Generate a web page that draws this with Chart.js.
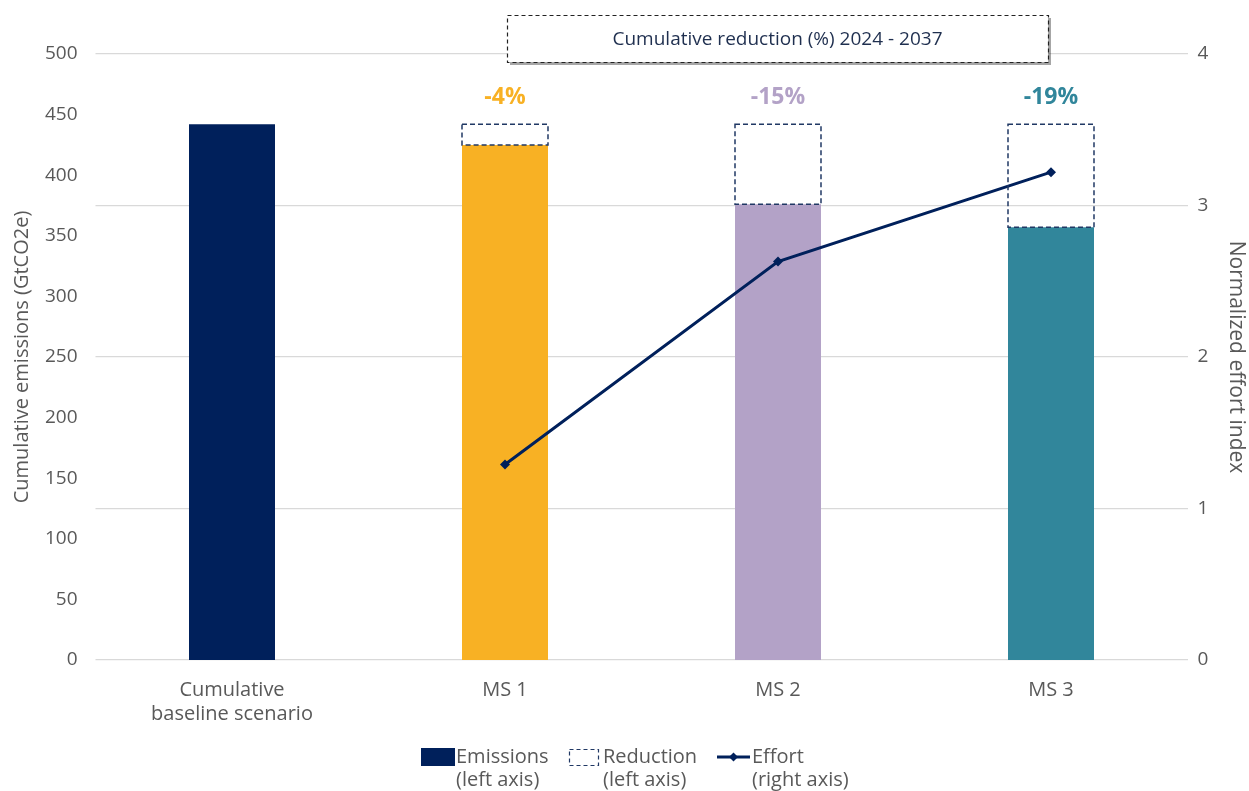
<!DOCTYPE html>
<html>
<head>
<meta charset="utf-8">
<script src="https://cdn.jsdelivr.net/npm/chart.js@4.4.0/dist/chart.umd.min.js"></script>
<style>
body{margin:0;background:#fff;}
#wrap{width:1249px;height:791px;}
</style>
</head>
<body>
<div id="wrap"><canvas id="grafico" width="1249" height="791"></canvas></div>
<script>
// DATA
var categorias = [["Cumulative","baseline scenario"],"MS 1","MS 2","MS 3"];
var emissoes = [442, 425, 376, 357];
var reducao = [0, 17, 66, 85];
var esforco = [null, 1.29, 2.63, 3.22];
var coresBarras = ["#00205b","#f8b124","#b3a2c7","#31869b"];
var ticksEsq = [0,50,100,150,200,250,300,350,400,450,500];
var ticksDir = [0,1,2,3,4];

var FONTE = "'Open Sans', sans-serif";
var CINZA = "#595959";
var AZUL = "#00205b";

/* =======================
   PLUGIN - caixas tracejadas, rótulos, legenda
======================= */
var extras = {
id:"extras",
afterDatasetsDraw:function(chart){
var ctx = chart.ctx;
var meta = chart.getDatasetMeta(1);
ctx.save();
ctx.strokeStyle = "#203864";
ctx.lineWidth = 1.5;
ctx.setLineDash([5,3]);
meta.data.forEach(function(el,i){
if(!reducao[i]) return;
var p = el.getProps(["x","y","base","width"],true);
ctx.strokeRect(p.x - p.width/2, p.y, p.width, p.base - p.y);
});
ctx.restore();

// percentuais
ctx.save();
ctx.font = "bold 23px " + FONTE;
ctx.textAlign = "center";
ctx.textBaseline = "middle";
meta.data.forEach(function(el,i){
if(!reducao[i]) return;
var base = emissoes[0];
var pct = Math.round(-reducao[i]/base*100);
ctx.fillStyle = coresBarras[i];
ctx.fillText(pct + "%", el.x, el.y - 27);
});
ctx.restore();
},
afterDraw:function(chart){
var ctx = chart.ctx;
// caixa do título
var x2 = chart.scales.x.getPixelForValue(2);
var bx = x2 - 271, by = 15, bw = 541, bh = 47;
ctx.save();
ctx.fillStyle = "rgba(0,0,0,0.35)";
ctx.fillRect(bx+3, by+3, bw, bh);
ctx.fillStyle = "#fff";
ctx.fillRect(bx, by, bw, bh);
ctx.strokeStyle = "#222";
ctx.lineWidth = 1.2;
ctx.setLineDash([4,3]);
ctx.strokeRect(bx+0.5, by+0.5, bw, bh);
ctx.setLineDash([]);
ctx.fillStyle = "#1f2f4f";
ctx.font = "19px " + FONTE;
ctx.textAlign = "center";
ctx.textBaseline = "middle";
ctx.fillText("Cumulative reduction (%) 2024 - 2037", bx + bw/2, by + bh/2 + 1);
ctx.restore();

// legenda
ctx.save();
ctx.font = "20px " + FONTE;
ctx.textBaseline = "middle";
var ly = 757, ly2 = 780;
ctx.fillStyle = AZUL;
ctx.fillRect(421, 748, 34, 18);
ctx.fillStyle = CINZA;
ctx.fillText("Emissions", 456, ly);
ctx.fillText("(left axis)", 456, ly2);

ctx.strokeStyle = "#203864";
ctx.lineWidth = 1.2;
ctx.setLineDash([4,3]);
ctx.strokeRect(569.5, 749.5, 29, 16);
ctx.setLineDash([]);
ctx.fillText("Reduction", 603, ly);
ctx.fillText("(left axis)", 603, ly2);

ctx.strokeStyle = AZUL;
ctx.lineWidth = 3;
ctx.beginPath();
ctx.moveTo(717, ly); ctx.lineTo(750, ly);
ctx.stroke();
ctx.fillStyle = AZUL;
ctx.beginPath();
ctx.moveTo(733.5, ly-4.5); ctx.lineTo(738, ly); ctx.lineTo(733.5, ly+4.5); ctx.lineTo(729, ly);
ctx.closePath(); ctx.fill();
ctx.fillStyle = CINZA;
ctx.fillText("Effort", 752, ly);
ctx.fillText("(right axis)", 752, ly2);
ctx.restore();
}
};

/* =======================
   GRÁFICO
======================= */
new Chart(document.getElementById("grafico"),{
type:"bar",
data:{
labels:categorias,
datasets:[{
label:"Emissions",
data:emissoes,
backgroundColor:coresBarras,
yAxisID:"y",
stack:"s",
order:2,
barPercentage:0.63,
categoryPercentage:0.5
},{
label:"Reduction",
data:reducao,
backgroundColor:"rgba(0,0,0,0)",
borderWidth:0,
yAxisID:"y",
stack:"s",
order:2,
barPercentage:0.63,
categoryPercentage:0.5
},{
type:"line",
label:"Effort",
data:esforco,
yAxisID:"y1",
borderColor:AZUL,
backgroundColor:AZUL,
borderWidth:3,
pointStyle:"rectRot",
pointRadius:5,
pointBorderWidth:0,
tension:0,
order:1
}]
},
options:{
responsive:false,
animation:false,
layout:{padding:{top:54,bottom:47,left:10,right:0}},
plugins:{legend:{display:false},tooltip:{enabled:false}},
scales:{
x:{
stacked:true,
grid:{display:false,drawTicks:false},
border:{display:false},
ticks:{color:CINZA,font:{family:FONTE,size:20},padding:18,maxRotation:0}
},
y:{
stacked:true,
position:"left",
min:0,max:500,
afterBuildTicks:function(s){s.ticks = ticksEsq.map(function(v){return {value:v};});},
afterFit:function(s){s.width = 85.5;},
grid:{display:false,drawTicks:false},
border:{display:false},
ticks:{color:CINZA,font:{family:FONTE,size:19},padding:18},
title:{display:true,text:"Cumulative emissions (GtCO2e)",color:CINZA,font:{family:FONTE,size:20},padding:{top:0,bottom:0}}
},
y1:{
position:"right",
min:0,max:4,
afterBuildTicks:function(s){s.ticks = ticksDir.map(function(v){return {value:v};});},
afterFit:function(s){s.width = 61.5;},
grid:{color:"#d9d9d9",lineWidth:1.3,drawTicks:false},
border:{display:false},
ticks:{color:CINZA,font:{family:FONTE,size:19},padding:10},
title:{display:true,text:"Normalized effort index",color:CINZA,font:{family:FONTE,size:21},padding:{top:0,bottom:0}}
}
}
},
plugins:[extras]
});
</script>
</body>
</html>
